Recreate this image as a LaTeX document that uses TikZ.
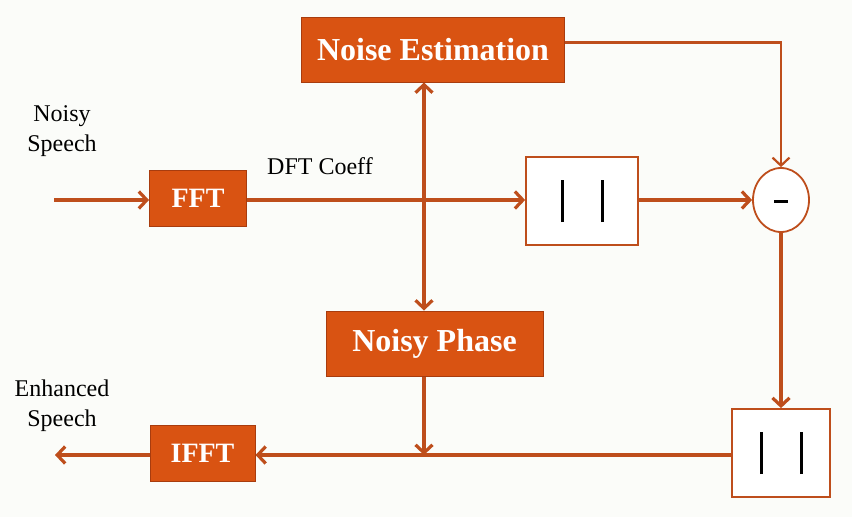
\documentclass[tikz,border=0pt]{standalone}
\usepackage{fontspec}
\setmainfont{Liberation Serif}
\usetikzlibrary{arrows.meta,shapes.geometric}
\definecolor{blockfill}{RGB}{217,83,18}
\definecolor{blockline}{RGB}{168,60,14}
\definecolor{wirecolor}{RGB}{190,78,28}
\definecolor{paper}{RGB}{251,252,249}
\newcommand{\magbars}{\rule{3pt}{42pt}\hspace{37pt}\rule{3pt}{42pt}}
\tikzset{
  block/.style   = {draw=blockline, fill=blockfill, text=white, line width=1pt,
                    font=\fontsize{32}{34}\selectfont\bfseries, inner sep=0pt},
  smallblock/.style = {block, font=\fontsize{28}{30}\selectfont\bfseries},
  magbox/.style  = {draw=wirecolor, fill=white, line width=1.8pt,
                    minimum width=112pt, minimum height=88pt, inner sep=0pt},
  sigtext/.style = {font=\fontsize{24}{30}\selectfont, align=center},
  flow/.style    = {draw=wirecolor, line width=3.2pt,
                    -{Straight Barb[length=8pt,width=17pt]}}
}

\begin{document}
\begin{tikzpicture}[x=1pt,y=-1pt]
  \fill[paper] (0,0) rectangle (852,517);
  \useasboundingbox (0,0) rectangle (852,517);
  % blocks
  \node[block, minimum width=263pt, minimum height=65pt] (noise) at (433,49.5) {Noise Estimation};
  \node[smallblock, minimum width=97pt, minimum height=56pt] (fft) at (198,198) {FFT};
  \node[block, minimum width=217pt, minimum height=65pt] (phase) at (434.5,343.5) {Noisy Phase};
  \node[smallblock, minimum width=105pt, minimum height=56pt] (ifft) at (202.5,453) {IFFT};
  \node[magbox] (mag) at (582,201) {\magbars};
  \node[magbox, minimum width=98pt] (mag2) at (781,453) {\magbars};
  \node[draw=wirecolor, fill=white, line width=1.8pt, ellipse, inner sep=0pt,
        minimum width=56pt, minimum height=64pt] (sub) at (781,200) {\raisebox{-6pt}{\rule{14pt}{3pt}}};
  % texts
  \node[sigtext] (noisyin) at (62,131) {Noisy\\Speech};
  \node[sigtext] (dft) at (320,166) {DFT Coeff};
  \node[sigtext] (enhanced) at (62,406) {Enhanced\\Speech};
  % ends and joints
  \coordinate (in) at (54,200);
  \coordinate (out) at (55,455);
  \coordinate (split) at (424,200);
  \coordinate (join) at (424,455);
  % connectors
  \draw[flow] (in) -- (in -| fft.west);
  \draw[flow] (split -| fft.east) -- (split -| mag.west);
  \draw[flow] (split) -- (split |- noise.south);
  \draw[flow] (split) -- (split |- phase.north);
  \draw[flow] (split -| mag.east) -- (split -| sub.west);
  \draw[flow, line width=2.2pt] ([yshift=7pt]noise.east) -| (sub.north);
  \draw[flow] (sub) -- (mag2);
  \draw[flow] (join -| mag2.west) -- (join -| ifft.east);
  \draw[flow] (phase.south -| join) -- (join);
  \draw[flow] (join -| ifft.west) -- (out);
\end{tikzpicture}
\end{document}
